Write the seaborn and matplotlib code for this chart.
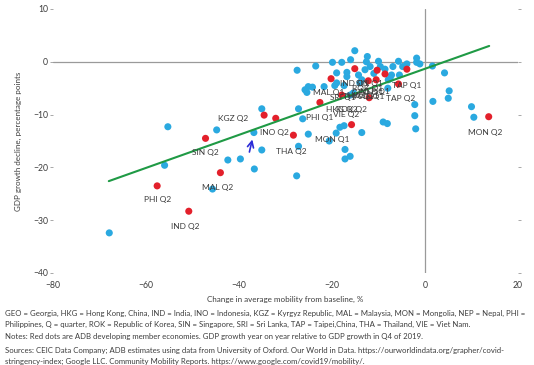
import matplotlib
matplotlib.use("Agg")
import matplotlib.pyplot as plt
import seaborn as sns
import pandas as pd

# ---------------- data ----------------
blue_x = [-55.3, -44.8, -36.8, -42.4, -39.7, -36.7, -56.0, -45.7, -67.9, -35.1,
          -35.1, -25.1, -27.2, -26.3, -27.2, -27.6, -20.6, -19.1, -18.3, -17.4,
          -17.2, -16.1, -17.2, -13.6, -9.0, -8.1, -2.2, -2.2, -2.0, 1.7,
          -15.4, -25.4, -24.2, -25.1, -21.7, -19.4, -16.1, -15.1, -12.4, -12.6,
          -10.0, -16.0, -19.9, -17.9, -23.5, -27.5, -12.9, -11.8, -8.6, -6.9,
          -3.9, -1.8, -1.8, -4.8, -7.2, -5.5, -19.0, -16.8, -14.3, -13.6,
          -7.9, -19.0, -17.4, -16.8, -7.5, -8.0, -1.1, 1.6, 4.2, 5.2,
          5.0, 10.0, 10.5, -5.7, -9.6, -25.8, -14.0, -11.0]
blue_y = [-12.3, -12.9, -13.4, -18.6, -18.4, -20.3, -19.6, -24.1, -32.4, -16.7,
          -8.9, -13.7, -8.9, -10.8, -16.0, -21.6, -15.0, -13.5, -12.4, -12.1,
          -16.6, -17.9, -18.4, -13.4, -11.4, -11.7, -8.1, -10.2, -12.7, -7.5,
          -5.9, -5.8, -4.8, -4.7, -4.7, -4.5, -6.3, 2.1, 1.0, 0.0,
          0.1, 0.4, -0.1, -0.1, -0.8, -1.6, -1.5, -0.9, -1.4, -0.9,
          -0.4, 0.7, -0.1, -0.9, -2.5, -2.5, -2.1, -2.0, -2.5, -3.4,
          -3.4, -4.0, -4.5, -2.8, -3.2, -5.0, -0.4, -0.8, -2.1, -5.5,
          -6.9, -8.5, -10.5, 0.1, -0.9, -5.3, -4.0, -2.2]

red_x = [-57.6, -50.8, -44.0, -47.2, -34.6, -32.1, -28.3, -22.6, -15.8, -15.1,
         -10.3, -3.9, -8.6, -20.2, -12.2, -10.5, -5.7, -17.9, 13.7, -12.0]
red_y = [-23.5, -28.3, -21.0, -14.5, -10.1, -10.7, -13.9, -7.7, -11.9, -1.3,
         -1.6, -1.4, -2.3, -3.2, -3.6, -3.4, -4.2, -6.3, -10.4, -6.8]

fit_x = [-68.0, 13.8]
fit_y = [-22.6, 3.0]

labels = ["KGZ Q2", "INO Q2", "SIN Q2", "THA Q2", "PHI Q2", "MAL Q2", "IND Q2",
          "PHI Q1", "MON Q1", "HKG Q2", "ROK Q2", "VIE Q2", "MAL Q1", "IND Q1",
          "SIN Q1", "TAP Q1", "SRI Q1", "THA Q1", "GEO Q1", "NEP Q1", "ROK Q1",
          "VIE Q1", "HKG Q1", "TAP Q2", "MON Q2"]
label_x = [-41.3, -35.5, -47.3, -28.8, -57.4, -44.7, -51.6,
           -25.6, -20.0, -21.3, -19.1, -19.8, -24.1, -18.3,
           -14.8, -7.1, -20.4, -17.6, -15.7, -14.0, -15.7,
           -14.4, -16.8, -8.4, 12.9]
label_y = [-10.8, -13.4, -17.2, -16.9, -26.1, -23.9, -31.1,
           -10.6, -14.8, -9.1, -9.1, -10.0, -5.9, -4.2,
           -4.2, -4.4, -6.8, -6.6, -5.9, -5.7, -5.1,
           -6.6, -6.3, -7.0, -13.3]
label_ha = ["center", "left", "center", "center", "center", "center", "center",
            "left", "center", "left", "left", "left", "left", "left",
            "left", "left", "left", "left", "left", "left", "left",
            "left", "left", "left", "center"]

x_ticks = [-80, -60, -40, -20, 0, 20]
y_ticks = [10, 0, -10, -20, -30, -40]

notes = [
    "GEO = Georgia, HKG = Hong Kong, China, IND = India, INO = Indonesia, KGZ = Kyrgyz Republic, MAL = Malaysia, MON = Mongolia, NEP = Nepal, PHI =",
    "Philippines, Q = quarter, ROK = Republic of Korea, SIN = Singapore, SRI = Sri Lanka, TAP = Taipei,China, THA = Thailand, VIE = Viet Nam.",
    "Notes: Red dots are ADB developing member economies. GDP growth year on year relative to GDP growth in Q4 of 2019.",
    "Sources: CEIC Data Company; ADB estimates using data from University of Oxford. Our World in Data. https://ourworldindata.org/grapher/covid-",
    "stringency-index; Google LLC. Community Mobility Reports. https://www.google.com/covid19/mobility/.",
]

# ---------------- plot ----------------
sns.set_theme(style="white")
plt.rcParams["font.family"] = ["Lato", "DejaVu Sans"]
TXT = "#3c3c3c"
GRAY = "#9a9a9a"

df = pd.DataFrame({
    "x": blue_x + red_x,
    "y": blue_y + red_y,
    "group": ["blue"] * len(blue_x) + ["red"] * len(red_x),
})
fit = pd.DataFrame({"x": fit_x, "y": fit_y})

fig = plt.figure(figsize=(5.34, 3.65), dpi=100)
ax = fig.add_axes([53 / 534, 1 - 273 / 365, (518 - 53) / 534, (273 - 9) / 365])

ax.axhline(0, color=GRAY, lw=0.9, zorder=1)
ax.axvline(0, color=GRAY, lw=0.9, zorder=1)

sns.scatterplot(data=df, x="x", y="y", hue="group",
                palette={"blue": "#2aa9e0", "red": "#e3202b"},
                s=26, edgecolor="none", linewidth=0, legend=False, ax=ax, zorder=3)
sns.lineplot(data=fit, x="x", y="y", color="#1f9a45", lw=1.5, ax=ax, zorder=4)

for t, lx, ly, ha in zip(labels, label_x, label_y, label_ha):
    ax.text(lx, ly, t, ha=ha, va="center", fontsize=6.0, color=TXT, zorder=5)

ax.annotate("", xy=(-37.0, -14.2), xytext=(-37.9, -17.6),
            arrowprops=dict(arrowstyle="->", color="#2b2bd8", lw=1.2,
                            mutation_scale=11), zorder=6)

ax.set_xlim(-80, 20)
ax.set_ylim(-40, 10)
ax.set_xticks(x_ticks)
ax.set_yticks(y_ticks)
ax.set_xticklabels([str(v).replace("-", "\u2212") for v in x_ticks])
ax.set_yticklabels([str(v).replace("-", "\u2212") for v in y_ticks])
for s in ax.spines.values():
    s.set_visible(False)
ax.tick_params(axis="y", left=True, right=True, length=2.5, width=0.6,
               color=GRAY, labelsize=6.2, labelcolor=TXT, pad=1)
ax.tick_params(axis="x", bottom=False, length=0, labelsize=6.2,
               labelcolor=TXT, pad=6)
ax.set_xlabel("Change in average mobility from baseline, %", fontsize=5.8,
              color=TXT, labelpad=4)
ax.set_ylabel("GDP growth decline, percentage points", fontsize=5.8,
              color=TXT, labelpad=8)

line_y = [313, 324, 337, 350, 361]
for txt, py in zip(notes, line_y):
    fig.text(5 / 534, 1 - py / 365, txt, ha="left", va="center",
             fontsize=5.6, color=TXT)

fig.savefig("out.png", dpi=100)
